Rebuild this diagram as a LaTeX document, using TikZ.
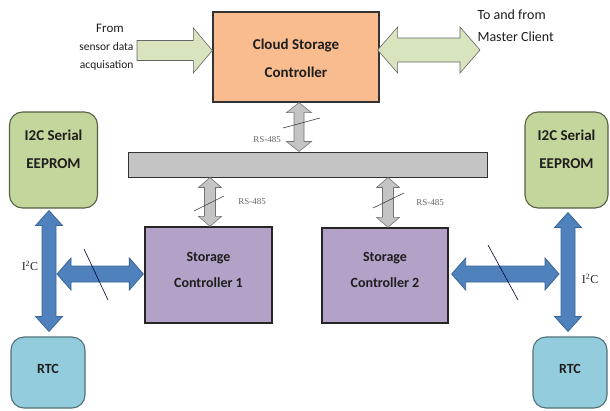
\documentclass[tikz,border=0pt]{standalone}
\usepackage{fontspec}
\setmainfont{Carlito}
\newfontfamily\timesfont{Liberation Serif}
\usetikzlibrary{calc}

\definecolor{cloudfill}{HTML}{F9BC8F}
\definecolor{greenfill}{HTML}{D7E4BD}
\definecolor{eepfill}{HTML}{C3D69B}
\definecolor{rtcfill}{HTML}{93CDDD}
\definecolor{scfill}{HTML}{B3A2C7}
\definecolor{busfill}{HTML}{C4C4C4}
\definecolor{bluefill}{HTML}{4F81BD}
\definecolor{blueedge}{HTML}{3B6698}
\definecolor{txt}{HTML}{1E1E1E}

% vertical double block arrow: style, top tip, bottom tip, shaft half, head half, head length
\newcommand\vdblarrow[6]{%
  \path[#1] let \p1=(#2), \p2=(#3) in
    (\x1,\y1) -- (\x1+#5,\y1-#6) -- (\x1+#4,\y1-#6) -- (\x1+#4,\y2+#6)
    -- (\x1+#5,\y2+#6) -- (\x1,\y2) -- (\x1-#5,\y2+#6) -- (\x1-#4,\y2+#6)
    -- (\x1-#4,\y1-#6) -- (\x1-#5,\y1-#6) -- cycle;}
% horizontal double block arrow: style, left tip, right tip, shaft half, head half, head length
\newcommand\hdblarrow[6]{%
  \path[#1] let \p1=(#2), \p2=(#3) in
    (\x1,\y1) -- (\x1+#6,\y1+#5) -- (\x1+#6,\y1+#4) -- (\x2-#6,\y1+#4)
    -- (\x2-#6,\y1+#5) -- (\x2,\y1) -- (\x2-#6,\y1-#5) -- (\x2-#6,\y1-#4)
    -- (\x1+#6,\y1-#4) -- (\x1+#6,\y1-#5) -- cycle;}
% single block arrow pointing right: style, tail, tip, shaft half, head half, head length
\newcommand\hsglarrow[6]{%
  \path[#1] let \p1=(#2), \p2=(#3) in
    (\x1,\y1+#4) -- (\x2-#6,\y1+#4) -- (\x2-#6,\y1+#5) -- (\x2,\y1)
    -- (\x2-#6,\y1-#5) -- (\x2-#6,\y1-#4) -- (\x1,\y1-#4) -- cycle;}

\tikzset{
  block/.style={draw, line width=1.3pt, inner sep=0pt},
  roundbox/.style={draw, line width=1.1pt, rounded corners=13pt, inner sep=0pt},
  boxtext/.style={font=\bfseries\fontsize{14}{26}\selectfont, text=txt, align=center},
  greenarrow/.style={fill=greenfill, draw=black!60, line width=0.6pt},
  grayarrow/.style={fill=busfill, draw=black!55, line width=0.6pt},
  bluearrow/.style={fill=bluefill, draw=blueedge, line width=0.8pt},
  slash/.style={draw=black!75, line width=0.6pt},
  rslabel/.style={font=\timesfont\fontsize{9}{10}\selectfont, text=black!60},
  iclabel/.style={font=\timesfont\fontsize{12}{13}\selectfont, text=black!85}
}

\begin{document}
\begin{tikzpicture}[x=1pt, y=-1pt]
\useasboundingbox[fill=white] (0,0) rectangle (610,410);

% main blocks
\node[block, fill=cloudfill, draw=black!80, minimum width=166pt, minimum height=90pt] (cloud) at (296,57) {};
\node[boxtext, font=\bfseries\fontsize{15}{28}\selectfont] (cloudtxt) at (296,58) {Cloud Storage\\Controller};

\node[block, fill=busfill, draw=black!80, line width=1pt, minimum width=359pt, minimum height=25pt] (bus) at (307.5,164.5) {};

\node[block, fill=scfill, draw=black!85, minimum width=127pt, minimum height=96pt] (sc1) at (208.5,275) {};
\node[boxtext] (sc1txt) at (208.5,270) {Storage\\Controller 1};
\node[block, fill=scfill, draw=black!85, minimum width=126pt, minimum height=95pt] (sc2) at (385,275.5) {};
\node[boxtext] (sc2txt) at (385,270) {Storage\\Controller 2};

% peripheral chips
\node[roundbox, fill=eepfill, draw=black!55!eepfill, minimum width=88pt, minimum height=96pt] (eepL) at (53.5,160) {};
\node[boxtext, font=\bfseries\fontsize{15}{28}\selectfont] (eepLtxt) at (53.5,149) {I2C Serial\\EEPROM};
\node[roundbox, fill=eepfill, draw=black!55!eepfill, minimum width=83pt, minimum height=96pt] (eepR) at (566.5,160) {};
\node[boxtext, font=\bfseries\fontsize{15}{28}\selectfont] (eepRtxt) at (566.5,149) {I2C Serial\\EEPROM};

\node[roundbox, fill=rtcfill, draw=black!45!rtcfill, minimum width=74pt, minimum height=71pt] (rtcL) at (48,372.5) {};
\node[boxtext] (rtcLtxt) at (48,369) {RTC};
\node[roundbox, fill=rtcfill, draw=black!45!rtcfill, minimum width=74pt, minimum height=71pt] (rtcR) at (570,372.5) {};
\node[boxtext] (rtcRtxt) at (570,369) {RTC};

% external links of the cloud controller
\coordinate (srcIn) at (137,50.5);
\coordinate (master) at (480,50);
\hsglarrow{greenarrow}{srcIn}{cloud.west |- srcIn}{10pt}{22.5pt}{19pt}
\hdblarrow{greenarrow}{$(cloud.east)+(-2,-7)$}{master}{12pt}{23pt}{20pt}

\node[font=\fontsize{13}{14}\selectfont, text=txt] (fromtxt) at (110,28) {From};
\node[font=\fontsize{11.5}{18}\selectfont, text=txt, align=right, anchor=east] (sensortxt) at (137,56) {sensor data\\acquisation};
\node[font=\fontsize{14}{22}\selectfont, text=txt, align=left, anchor=north west] (mastertxt) at (474,6) {To and from\\Master Client};

% RS-485 links to the bus
\vdblarrow{grayarrow}{$(cloud.south)+(3,0)$}{bus.north}{5pt}{12.5pt}{10pt}
\vdblarrow{grayarrow}{$(sc1.north |- bus.south)+(1.5,0)$}{sc1.north}{5.5pt}{11.5pt}{10pt}
\vdblarrow{grayarrow}{$(sc2.north |- bus.south)+(3,0)$}{sc2.north}{5.5pt}{11.5pt}{10pt}

\draw[slash] (283,128) -- (320,118);
\draw[slash] (194,211) -- (224,196);
\draw[slash] (373,208) -- (404,193);

\node[rslabel] (rs1) at (267,140) {RS-485};
\node[rslabel] (rs2) at (252,202) {RS-485};
\node[rslabel] (rs3) at (430,203) {RS-485};

% I2C links, left side
\coordinate (jL) at (57,274);
\vdblarrow{bluearrow}{$(eepL.south)+(-4.5,2)$}{$(rtcL.north)+(1,-5)$}{7pt}{13.5pt}{15pt}
\hdblarrow{bluearrow}{jL}{$(sc1.west)+(-1,-1)$}{8pt}{16pt}{14pt}
\draw[slash, draw=black!80!blue] (84,249) -- (108,300);
\node[iclabel] (i2cL) at (30,266) {I\textsuperscript{2}C};

% I2C links, right side
\coordinate (jR) at (559,274);
\vdblarrow{bluearrow}{$(eepR.south)+(1.5,4)$}{$(rtcR.north)+(-2,-5)$}{7pt}{13.5pt}{15pt}
\hdblarrow{bluearrow}{$(sc2.east)+(3,-1.5)$}{jR}{8pt}{16pt}{14pt}
\draw[slash, draw=black!80!blue] (488,245) -- (518,300);
\node[iclabel] (i2cR) at (590,279) {I\textsuperscript{2}C};

\end{tikzpicture}
\end{document}
